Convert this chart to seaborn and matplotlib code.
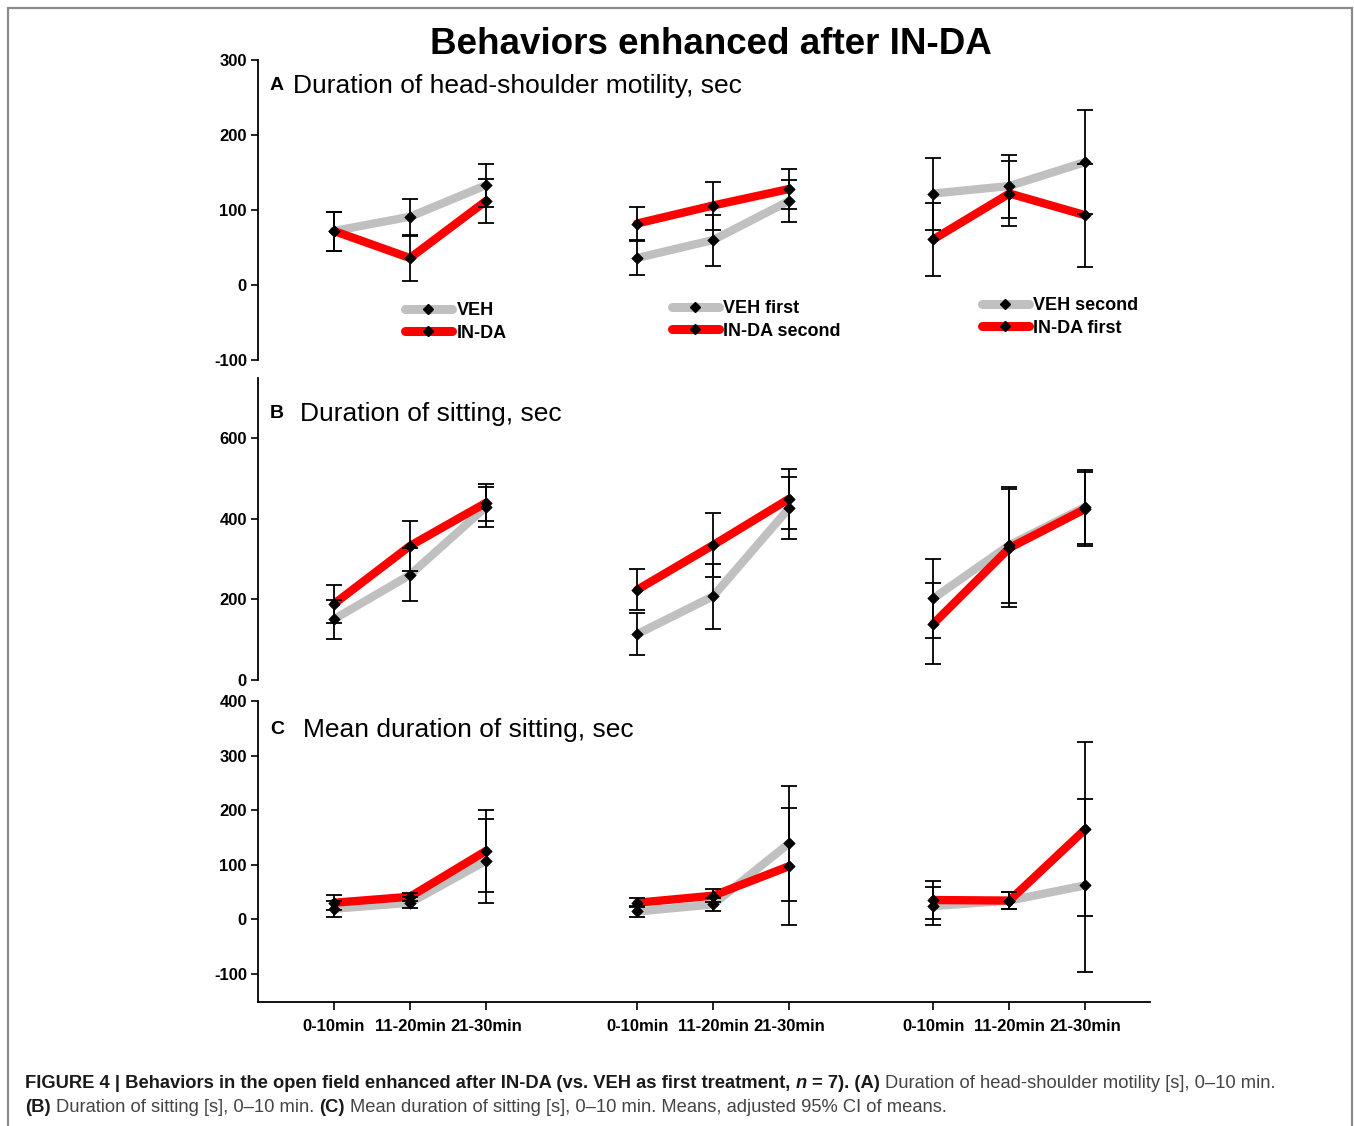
import numpy as np
import pandas as pd
import matplotlib.pyplot as plt
import seaborn as sns
from matplotlib.lines import Line2D
from matplotlib.patches import Rectangle

# ------------------------------
# data (means and half-width of adjusted 95% CI), 3 groups x 3 time bins
# ------------------------------
time_labels = ["0-10min", "11-20min", "21-30min"]
legend_labels = [("VEH", "IN-DA"), ("VEH first", "IN-DA second"), ("VEH second", "IN-DA first")]

# A: duration of head-shoulder motility
a_veh = [72, 91, 133, 36, 60, 112, 122, 132, 164]
a_veh_ci = [26, 24, 29, 23, 34, 28, 48, 42, 69]
a_da = [72, 36, 112, 82, 106, 128, 61, 122, 93]
a_da_ci = [26, 30, 29, 22, 32, 27, 49, 43, 69]

# B: duration of sitting
b_veh = [151, 261, 430, 114, 208, 427, 203, 335, 430]
b_veh_ci = [48, 66, 50, 52, 81, 76, 98, 145, 92]
b_da = [189, 333, 440, 224, 335, 450, 140, 328, 425]
b_da_ci = [48, 63, 46, 51, 79, 75, 100, 147, 92]

# C: mean duration of sitting
c_veh = [19, 30, 107, 14, 27, 139, 24, 34, 62]
c_veh_ci = [15, 10, 77, 10, 12, 106, 35, 15, 159]
c_da = [30, 41, 125, 30, 43, 97, 35, 34, 165]
c_da_ci = [14, 7, 76, 8, 12, 107, 34, 15, 159]

panel_titles = ["Duration of head-shoulder motility, sec",
                "Duration of sitting, sec",
                "Mean duration of sitting, sec"]

W, H = 1354, 1126
GREY = "#c0c0c0"
RED = "#ff0000"

sns.set_theme(style="white")
plt.rcParams["font.family"] = ["Liberation Sans", "DejaVu Sans"]
plt.rcParams["text.color"] = "black"
plt.rcParams["xtick.color"] = "black"
plt.rcParams["ytick.color"] = "black"
plt.rcParams["axes.labelcolor"] = "black"

fig = plt.figure(figsize=(W / 100, H / 100), dpi=100)


def px(x, y):
    return x / W, 1 - y / H


def axes_at(left, top, right, bottom):
    return fig.add_axes([left / W, 1 - bottom / H, (right - left) / W, (bottom - top) / H])


# x positions: 3 time bins per group, groups separated by a gap
group_starts = [0, 3.99, 7.89]
xpos = [s + t for s in group_starts for t in range(3)]
groups = [g for g in range(3) for t in range(3)]


def make_frame(veh, da):
    rows = []
    for name, vals in (("VEH", veh), ("IN-DA", da)):
        for x, g, v in zip(xpos, groups, vals):
            rows.append({"x": x, "group": g, "series": name, "value": v})
    return pd.DataFrame(rows)


def draw_panel(ax, veh, veh_ci, da, da_ci, ylim, yticks):
    df = make_frame(veh, da)
    sns.lineplot(data=df, x="x", y="value", hue="series", units="group",
                 estimator=None, hue_order=["VEH", "IN-DA"],
                 palette={"VEH": GREY, "IN-DA": RED}, lw=6, legend=False,
                 sort=False, ax=ax)
    for vals, ci in ((veh, veh_ci), (da, da_ci)):
        ax.errorbar(xpos, vals, yerr=ci, fmt="none", ecolor="black",
                    elinewidth=1.3, capsize=5.5, capthick=1.3, zorder=5)
    sns.scatterplot(x=xpos + xpos, y=list(veh) + list(da), marker="D",
                    color="black", s=34, edgecolor="black", zorder=6,
                    legend=False, ax=ax)
    ax.set_xlim(-1, 10.74)
    ax.set_ylim(*ylim)
    ax.set_yticks(yticks)
    ax.set_yticklabels([str(t) for t in yticks], fontweight="bold", fontsize=12)
    ax.tick_params(axis="y", direction="out", length=5, width=1.2, left=True, pad=3)
    ax.set_xlabel("")
    ax.set_ylabel("")
    for s in ("top", "right"):
        ax.spines[s].set_visible(False)
    ax.spines["left"].set_color("black")
    ax.spines["left"].set_linewidth(1.3)
    ax.patch.set_alpha(0)


ax_a = axes_at(258, 60, 1150, 360)
ax_b = axes_at(258, 378, 1150, 680)
ax_c = axes_at(258, 701, 1150, 1002)

draw_panel(ax_a, a_veh, a_veh_ci, a_da, a_da_ci, (-100, 300), [-100, 0, 100, 200, 300])
draw_panel(ax_b, b_veh, b_veh_ci, b_da, b_da_ci, (0, 750), [0, 200, 400, 600])
draw_panel(ax_c, c_veh, c_veh_ci, c_da, c_da_ci, (-152, 400), [-100, 0, 100, 200, 300, 400])

for ax in (ax_a, ax_b):
    ax.spines["bottom"].set_visible(False)
    ax.set_xticks([])

ax_c.spines["bottom"].set_color("black")
ax_c.spines["bottom"].set_linewidth(1.3)
ax_c.set_xticks(xpos)
ax_c.set_xticklabels(time_labels * 3, fontweight="bold", fontsize=12)
ax_c.tick_params(axis="x", direction="out", length=6, width=1.2, bottom=True, pad=6)

# legends for panel A
legend_spots = [(405, 302), (672, 300), (982, 297)]
for (lab_veh, lab_da), (lx, ly) in zip(legend_labels, legend_spots):
    handles = [
        Line2D([], [], color=GREY, lw=6.5, marker="D", ms=5.5, mfc="black", mec="black"),
        Line2D([], [], color=RED, lw=6.5, marker="D", ms=5.5, mfc="black", mec="black"),
    ]
    fig.legend(handles, [lab_veh, lab_da], loc="upper left",
               bbox_to_anchor=px(lx, ly), frameon=False,
               prop={"weight": "bold", "size": 13}, handlelength=2.6,
               handletextpad=0.25, labelspacing=0.32, borderpad=0,
               borderaxespad=0)

# titles
fig.text(*px(711, 44), "Behaviors enhanced after IN-DA", ha="center", va="center",
         fontsize=26.5, fontweight="bold")
panel_spots = [(270, 86, 293), (270, 414, 300), (270, 730, 303)]
for letter, title, (lx, ly, tx) in zip("ABC", panel_titles, panel_spots):
    fig.text(*px(lx, ly), letter, ha="left", va="center", fontsize=14, fontweight="bold")
    fig.text(*px(tx, ly), title, ha="left", va="center", fontsize=19)

# frame around figure
fig.patches.append(Rectangle((8 / W, -0.05), (1352 - 8) / W, 1.05 - 8 / H,
                             transform=fig.transFigure, fill=False,
                             edgecolor="#8a8a8a", lw=1.6, clip_on=False))

# caption
renderer = fig.canvas.get_renderer()
cap_size = 13.2
space_px = 0.278 * cap_size * 100 / 72


def write_runs(x, y, runs):
    for text, weight, style, color in runs:
        t = fig.text(x / W, 1 - y / H, text, ha="left", va="baseline",
                     fontsize=cap_size, fontweight=weight, fontstyle=style, color=color)
        bb = t.get_window_extent(renderer)
        x = bb.x1 + space_px


BOLD = ("bold", "normal", "#1a1a1a")
ITAL = ("bold", "italic", "#1a1a1a")
REG = ("normal", "normal", "#444444")
write_runs(25, 1088, [
    ("FIGURE 4 | Behaviors in the open field enhanced after IN-DA (vs. VEH as first treatment,",) + BOLD,
    ("n",) + ITAL,
    ("= 7). (A)",) + BOLD,
    ("Duration of head-shoulder motility [s], 0\u201310 min.",) + REG,
])
write_runs(25, 1112, [
    ("(B)",) + BOLD,
    ("Duration of sitting [s], 0\u201310 min.",) + REG,
    ("(C)",) + BOLD,
    ("Mean duration of sitting [s], 0\u201310 min. Means, adjusted 95% CI of means.",) + REG,
])

fig.savefig("out.png", dpi=100)
